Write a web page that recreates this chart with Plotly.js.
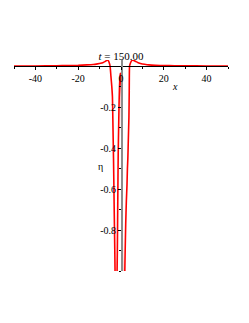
<!DOCTYPE html>
<html><head><meta charset="utf-8">
<script src="https://cdn.plot.ly/plotly-3.0.1.min.js"></script>
<style>html,body{margin:0;padding:0;background:#fff}#plot{width:249px;height:323px}</style>
</head><body><div id="plot"></div>
<script>
const xs = [-50, -40, -30, -25, -20, -16, -13, -11, -9.5, -8.5, -7.5, -6.8, -6.3, -5.9, -5.5, -5.1, -4.7, -4.3, -4.0, -3.75, -3.5, -3.2, -2.9, -2.6, -2.3, -2.1, -1.9, -1.7, -1.5, -1.3, -1.1, -0.9, -0.7, -0.5, -0.3, -0.15, 0.0, 0.2, 0.3, 0.4, 0.5, 0.6, 0.8, 1.1, 1.4, 1.7, 1.95, 2.2, 2.5, 2.8, 3.0, 3.2, 3.45, 3.7, 3.85, 4.0, 4.3, 4.7, 5.2, 5.7, 6.3, 7.0, 8, 9.5, 11, 13, 16, 20, 25, 30, 40, 50];
const eta = [0.0005, 0.001, 0.002, 0.003, 0.004, 0.006, 0.008, 0.011, 0.014, 0.017, 0.022, 0.027, 0.029, 0.026, 0.016, 0.0, -0.05, -0.1, -0.15, -0.3, -0.45, -0.68, -0.9, -1.15, -1.3, -1.2, -1.05, -0.9, -0.65, -0.42, -0.3, -0.18, -0.1, -0.055, -0.035, -0.04, -0.06, -0.1, -0.2, -0.4, -0.65, -0.9, -1.15, -1.3, -1.22, -1.05, -0.9, -0.77, -0.66, -0.58, -0.5, -0.45, -0.35, -0.25, -0.12, 0.0, 0.012, 0.022, 0.028, 0.029, 0.026, 0.022, 0.017, 0.012, 0.009, 0.006, 0.004, 0.003, 0.002, 0.0015, 0.001, 0.0005];
const xTickVals = [-40, -20, 0, 20, 40];
const xTickText = ['-40', '-20', '0', '20', '40'];
const yTickVals = [-0.8, -0.6, -0.4, -0.2];
const yTickText = ['-0.8', '-0.6', '-0.4', '-0.2'];
const titleText = '<i>t</i> = 150.00';
const xLabel = '<i>x</i>';
const yLabel = 'η';

const yMin = -1.0, yMax = 0.03;
const font = {family: 'Liberation Serif, serif', size: 10, color: '#000'};

Plotly.newPlot('plot', [{
  x: xs, y: eta, type: 'scatter', mode: 'lines',
  line: {color: '#ff0000', width: 1.6, shape: 'spline', smoothing: 0.5},
  hoverinfo: 'skip'
}], {
  width: 249, height: 323,
  margin: {l: 13.5, r: 20.5, t: 60, b: 52, pad: 0},
  paper_bgcolor: '#fff', plot_bgcolor: '#fff',
  showlegend: false,
  font: font,
  title: {text: titleText, font: {family: 'Liberation Serif, serif', size: 11, color: '#000'},
          x: 0.486, xanchor: 'center', y: 1 - 55.7/323, yanchor: 'middle'},
  xaxis: {range: [-50, 50], showgrid: false, zeroline: false,
          anchor: 'free', position: (0 - yMin) / (yMax - yMin),
          showline: true, linecolor: '#000', linewidth: 1,
          tickmode: 'array', tickvals: xTickVals, ticktext: xTickText,
          ticks: 'outside', ticklen: 3, tickcolor: '#000', tickfont: font,
          minor: {dtick: 10, tick0: 0, ticks: 'outside', ticklen: 2, tickcolor: '#000', showgrid: false}},
  yaxis: {range: [yMin, yMax], showgrid: false, zeroline: false,
          anchor: 'free', position: 0.5,
          showline: true, linecolor: '#8c8c8c', linewidth: 1.5,
          tickmode: 'array', tickvals: yTickVals, ticktext: yTickText,
          ticks: 'outside', ticklen: 3, tickcolor: '#000', tickfont: font,
          minor: {dtick: 0.1, tick0: 0, ticks: 'outside', ticklen: 2, tickcolor: '#000', showgrid: false}},
  annotations: [
    {text: xLabel, xref: 'x', yref: 'y', x: 25, y: -0.1, showarrow: false, font: font},
    {text: yLabel, xref: 'x', yref: 'y', x: -9.5, y: -0.49, showarrow: false, font: font}
  ]
}, {displayModeBar: false, staticPlot: true});
</script></body></html>
